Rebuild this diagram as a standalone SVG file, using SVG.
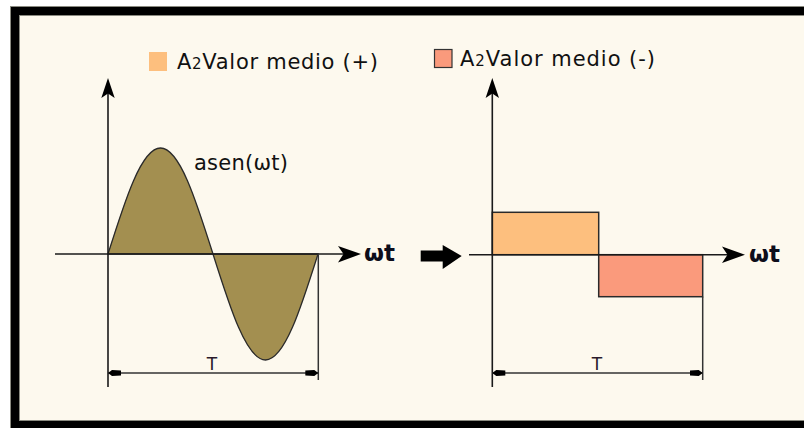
<svg xmlns="http://www.w3.org/2000/svg" width="804" height="428" viewBox="0 0 804 428">
<style>
.ax{stroke:#1a1a1a;stroke-width:1.6;fill:none}
.thin{stroke:#333;stroke-width:1.5;fill:none}
.head{fill:#000;stroke:none}
.lbl{font-family:"DejaVu Sans",Verdana,sans-serif;fill:#111}
.wt{font-family:"DejaVu Sans",Verdana,sans-serif;font-weight:bold;font-size:23px;fill:#0d0d1a}
.dimT{font-family:"DejaVu Sans",Verdana,sans-serif;font-size:17px;fill:#2a1a2a;text-anchor:middle}
</style>
<defs>
<marker id="dimL" markerWidth="14" markerHeight="8" refX="0" refY="4" orient="auto" markerUnits="userSpaceOnUse">
<path d="M0,4 L4,1 L13,1.5 L13,6.5 L4,7 Z" fill="#000"/>
</marker>
<marker id="dimR" markerWidth="14" markerHeight="8" refX="13" refY="4" orient="auto" markerUnits="userSpaceOnUse">
<path d="M13,4 L9,1 L0,1.5 L0,6.5 L9,7 Z" fill="#000"/>
</marker>
</defs>
<rect width="804" height="428" fill="#ffffff"/>
<g id="frame">
<rect x="15" y="11" width="800" height="414" fill="#fdf9ee" stroke="#8a8a80" stroke-width="10"/>
<rect x="15" y="11" width="800" height="414" fill="none" stroke="#000" stroke-width="8"/>
</g>
<g id="legend-pos">
<rect x="149" y="52" width="18" height="19" fill="#fdbf7e"/>
<text class="lbl" x="177" y="68.5" font-size="21" textLength="201" lengthAdjust="spacing">A<tspan font-size="15">2</tspan>Valor medio (+)</text>
</g>
<g id="legend-neg">
<rect x="434.5" y="49.5" width="17.5" height="18" fill="#fa9a7c" stroke="#333" stroke-width="1.2"/>
<text class="lbl" x="460" y="66" font-size="21" textLength="195" lengthAdjust="spacing">A<tspan font-size="15">2</tspan>Valor medio (-)</text>
</g>
<g id="plot-sine">
<path d="M108,254 C125.12,199.7 141.5,148 160.5,148 C179.5,148 195.88,199.7 213,254 C230.12,308.3 246.5,360 265.5,360 C284.5,360 300.88,308.3 318,254 Z" fill="#a38f50" stroke="#2a2a2a" stroke-width="1.3"/>
<line class="ax" x1="108" y1="92" x2="108" y2="387"/>
<path class="head" d="M108,78 L101.3,98 L108,93.5 L114.7,98 Z"/>
<line class="ax" x1="55" y1="254" x2="344" y2="254"/>
<path class="head" d="M361,254 L338,246 L343.5,254 L338,262.5 Z"/>
<text class="wt" x="364" y="261">ωt</text>
<text class="lbl" x="194" y="169.5" font-size="21" textLength="94" lengthAdjust="spacing">asen(ωt)</text>
<line class="thin" x1="318.3" y1="254" x2="318.3" y2="380"/>
<line class="thin" x1="108" y1="373" x2="318.3" y2="373" marker-start="url(#dimL)" marker-end="url(#dimR)"/>
<text class="dimT" x="212" y="370">T</text>
</g>
<g id="transform-arrow">
<path class="head" d="M420.7,250.5 L442.7,250.5 L442.7,245 L461.7,256 L442.7,269 L442.7,261.5 L420.7,261.5 Z"/>
</g>
<g id="plot-rect">
<rect x="492.3" y="212.3" width="106.4" height="42.4" fill="#fdbf7e" stroke="#2a2a2a" stroke-width="1.5"/>
<rect x="598.7" y="254.7" width="104" height="42" fill="#fa9a7c" stroke="#2a2a2a" stroke-width="1.5"/>
<line class="ax" x1="492.3" y1="92" x2="492.3" y2="387"/>
<path class="head" d="M492.3,78 L485.6,98 L492.3,93.5 L499,98 Z"/>
<line class="ax" x1="469" y1="254.7" x2="728" y2="254.7"/>
<path class="head" d="M745,254.7 L722,246.5 L727.5,254.7 L722,263 Z"/>
<text class="wt" x="749" y="261.5">ωt</text>
<line class="thin" x1="702.7" y1="296.7" x2="702.7" y2="380"/>
<line class="thin" x1="492.3" y1="373" x2="702.7" y2="373" marker-start="url(#dimL)" marker-end="url(#dimR)"/>
<text class="dimT" x="597" y="370">T</text>
</g>
</svg>
